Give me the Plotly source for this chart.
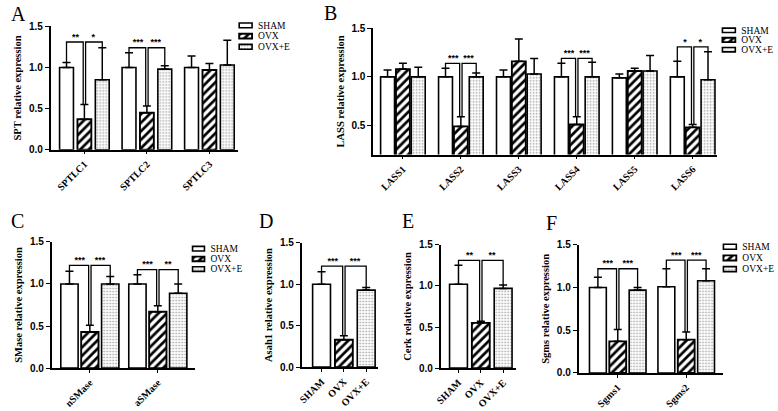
import plotly.graph_objects as go

W, H = 778, 411
GROUPS = ["SHAM", "OVX", "OVX+E"]

# ---------------- data ----------------
# Panel A
A_cats = ["SPTLC1", "SPTLC2", "SPTLC3"]
A_sham = [1.00, 1.00, 1.00]
A_sham_err = [0.06, 0.18, 0.14]
A_ovx = [0.37, 0.45, 0.97]
A_ovx_err = [0.18, 0.08, 0.08]
A_ovxe = [0.85, 0.98, 1.03]
A_ovxe_err = [0.39, 0.04, 0.30]
A_sig = [(0, 1.31, "**", "*"), (1, 1.24, "***", "***")]

# Panel B
B_cats = ["LASS1", "LASS2", "LASS3", "LASS4", "LASS5", "LASS6"]
B_sham = [1.00, 1.00, 1.00, 1.00, 0.99, 1.00]
B_sham_err = [0.07, 0.09, 0.07, 0.14, 0.04, 0.16]
B_ovx = [1.08, 0.49, 1.16, 0.51, 1.06, 0.48]
B_ovx_err = [0.06, 0.10, 0.23, 0.08, 0.03, 0.03]
B_ovxe = [1.00, 1.00, 1.03, 1.00, 1.06, 0.97]
B_ovxe_err = [0.10, 0.04, 0.16, 0.15, 0.16, 0.29]
B_sig = [(1, 1.14, "***", "***"), (3, 1.19, "***", "***"), (5, 1.31, "*", "*")]

# Panel C
C_cats = ["nSMase", "aSMase"]
C_sham = [1.00, 1.00]
C_sham_err = [0.15, 0.11]
C_ovx = [0.43, 0.67]
C_ovx_err = [0.08, 0.07]
C_ovxe = [1.00, 0.89]
C_ovxe_err = [0.09, 0.11]
C_sig = [(0, 1.22, "***", "***"), (1, 1.17, "***", "**")]

# Panel D (Asah1)
D_vals = [1.00, 0.33, 0.93]
D_errs = [0.15, 0.05, 0.03]
D_sig = [(0, 1.22, "***", "***")]

# Panel E (Cerk)
E_vals = [1.02, 0.55, 0.97]
E_errs = [0.23, 0.02, 0.04]
E_sig = [(0, 1.31, "**", "**")]

# Panel F
F_cats = ["Sgms1", "Sgms2"]
F_sham = [1.00, 1.01]
F_sham_err = [0.12, 0.21]
F_ovx = [0.37, 0.39]
F_ovx_err = [0.14, 0.09]
F_ovxe = [0.97, 1.08]
F_ovxe_err = [0.03, 0.14]
F_sig = [(0, 1.22, "***", "***"), (1, 1.32, "***", "***")]

# ---------------- styles ----------------
SERIF = "Liberation Serif"
SANS = "Liberation Sans"

def bar_marker(g):
    base = dict(color="white", line=dict(color="black", width=1.6))
    if g == 1:
        base["pattern"] = dict(shape="/", fgcolor="black", bgcolor="white",
                               size=6, solidity=0.45, fillmode="replace")
        base["line"] = dict(color="black", width=1.9)
    elif g == 2:
        base["pattern"] = dict(shape=".", fgcolor="#9a9a9a", bgcolor="white",
                               size=3, solidity=0.25, fillmode="replace")
    return base

fig = go.Figure()
layout = {}

def panel(n, cats, means, errs, sig, geom, ytitle, yrange, ytickvals,
          tickvals=None, ticktext=None):
    sfx = "" if n == 1 else str(n)
    xa, ya = "x" + sfx, "y" + sfx
    x0, x1, yt, yb, c0, sp, off, bw = geom
    ncat = len(means[0])

    def pos(i, g):
        return i + (g - 1) * off

    for g in range(3):
        xs = [pos(i, g) for i in range(ncat)]
        fig.add_trace(go.Bar(
            x=xs, y=means[g], width=bw, name=GROUPS[g], showlegend=False,
            xaxis=xa, yaxis=ya, marker=bar_marker(g),
            error_y=dict(type="data", symmetric=False, array=errs[g],
                         arrayminus=[0] * ncat, color="black",
                         thickness=1.5, width=4),
        ))

    d = 1.2 / sp
    for (i, h, s1, s2) in sig:
        tops = [means[g][i] + errs[g][i] for g in range(3)]
        xs0, xo, xe = pos(i, 0), pos(i, 1), pos(i, 2)
        fig.add_trace(go.Scatter(
            x=[xs0, xs0, xo - d, xo - d], y=[tops[0], h, h, tops[1]],
            mode="lines", line=dict(color="black", width=1.3),
            showlegend=False, xaxis=xa, yaxis=ya, hoverinfo="skip"))
        fig.add_trace(go.Scatter(
            x=[xo + d, xo + d, xe, xe], y=[tops[1], h, h, tops[2]],
            mode="lines", line=dict(color="black", width=1.3),
            showlegend=False, xaxis=xa, yaxis=ya, hoverinfo="skip"))
        fig.add_trace(go.Scatter(
            x=[(xs0 + xo) / 2, (xo + xe) / 2], y=[h, h], text=[s1, s2],
            mode="text", textposition="top center",
            textfont=dict(family=SANS, size=9, color="black", weight="bold"),
            showlegend=False, xaxis=xa, yaxis=ya, hoverinfo="skip"))

    if tickvals is None:
        tickvals = list(range(ncat))
        ticktext = cats
    layout["xaxis" + sfx] = dict(
        domain=[x0 / W, x1 / W], range=[(x0 - c0) / sp, (x1 - c0) / sp],
        anchor=ya, showline=True, linecolor="black", linewidth=1.6,
        ticks="outside", ticklen=3, tickwidth=1.3, tickcolor="black",
        tickvals=tickvals, ticktext=ticktext, tickangle=-45,
        tickfont=dict(family=SERIF, size=10, color="black", weight="bold"),
        showgrid=False, zeroline=False, fixedrange=True)
    layout["yaxis" + sfx] = dict(
        domain=[1 - yb / H, 1 - yt / H], range=yrange, anchor=xa,
        showline=True, linecolor="black", linewidth=1.6,
        ticks="outside", ticklen=4, tickwidth=1.3, tickcolor="black",
        tickvals=ytickvals, tickformat=".1f",
        tickfont=dict(family=SANS, size=10, color="black", weight="bold"),
        title=dict(text=ytitle, standoff=5,
                   font=dict(family=SERIF, size=10.5, color="black", weight="bold")),
        showgrid=False, zeroline=False, fixedrange=True)


def legend_box(n, sx0, sx1, ry0, rsp):
    sfx = str(n)
    xa, ya = "x" + sfx, "y" + sfx
    w = sx1 - sx0
    for g in range(3):
        fig.add_trace(go.Bar(
            x=[1], y=[g], orientation="h", width=0.45, showlegend=False,
            xaxis=xa, yaxis=ya, marker=bar_marker(g), hoverinfo="skip"))
    layout["xaxis" + sfx] = dict(domain=[(sx0 - 2) / W, (sx1 + 2) / W],
                                 range=[-2 / w, 1 + 2 / w], visible=False,
                                 anchor=ya, fixedrange=True)
    top = ry0 - rsp / 2
    bot = ry0 + 2.5 * rsp
    layout["yaxis" + sfx] = dict(
        domain=[1 - bot / H, 1 - top / H], range=[2.5, -0.5], anchor=xa,
        side="right", tickvals=[0, 1, 2], ticktext=GROUPS, ticks="",
        showline=False, showgrid=False, zeroline=False, ticklabelstandoff=3,
        tickfont=dict(family=SERIF, size=9.5, color="black"), fixedrange=True)


YT = [0, 0.5, 1.0, 1.5]
panel(1, A_cats, [A_sham, A_ovx, A_ovxe], [A_sham_err, A_ovx_err, A_ovxe_err],
      A_sig, (45, 234, 21, 148, 79, 63, 0.286, 0.222),
      "SPT relative expression", [0, 1.5], YT)
panel(2, B_cats, [B_sham, B_ovx, B_ovxe], [B_sham_err, B_ovx_err, B_ovxe_err],
      B_sig, (370, 717, 23, 153, 400, 58.4, 0.265, 0.24),
      "LASS relative expression", [0.2, 1.5], [0.5, 1.0, 1.5])
panel(3, C_cats, [C_sham, C_ovx, C_ovxe], [C_sham_err, C_ovx_err, C_ovxe_err],
      C_sig, (46, 190, 243, 373, 84.5, 68.5, 0.30, 0.255),
      "SMase relative expression", [0, 1.5], YT)
panel(4, [""], [[D_vals[0]], [D_vals[1]], [D_vals[2]]],
      [[D_errs[0]], [D_errs[1]], [D_errs[2]]], D_sig,
      (298, 375, 244, 372, 340.5, 22.5, 1.0, 0.8),
      "Asah1 relative expression", [0, 1.5], YT,
      tickvals=[-1, 0, 1], ticktext=GROUPS)
panel(5, [""], [[E_vals[0]], [E_vals[1]], [E_vals[2]]],
      [[E_errs[0]], [E_errs[1]], [E_errs[2]]], E_sig,
      (438, 514, 246, 373, 478.5, 22.5, 1.0, 0.8),
      "Cerk relative expression", [0, 1.5], YT,
      tickvals=[-1, 0, 1], ticktext=GROUPS)
panel(6, F_cats, [F_sham, F_ovx, F_ovxe], [F_sham_err, F_ovx_err, F_ovxe_err],
      F_sig, (577, 723, 246, 378, 616.5, 69, 0.29, 0.246),
      "Sgms relative expression", [0, 1.5], YT)

legend_box(7, 235, 248, 20, 11)
legend_box(8, 722, 735, 25, 10)
legend_box(9, 188, 200, 250, 10.5)
legend_box(10, 723, 736, 248, 11.5)

letters = [("A", 3, -5), ("B", 318, -6), ("C", 3, 208), ("D", 253, 208),
           ("E", 397, 208), ("F", 542, 210)]
annots = [dict(text=t, x=x / W, y=1 - y / H, xref="paper", yref="paper",
               xanchor="left", yanchor="top", showarrow=False,
               font=dict(family=SERIF, size=20, color="black"))
          for t, x, y in letters]

fig.update_layout(
    width=W, height=H, margin=dict(l=0, r=0, t=0, b=0),
    paper_bgcolor="white", plot_bgcolor="rgba(0,0,0,0)",
    barmode="overlay", showlegend=False, annotations=annots, **layout)

fig.write_html("out.html", config={"displayModeBar": False},
               post_script="document.body.style.margin='0';"
                           "document.body.style.overflow='hidden';")
